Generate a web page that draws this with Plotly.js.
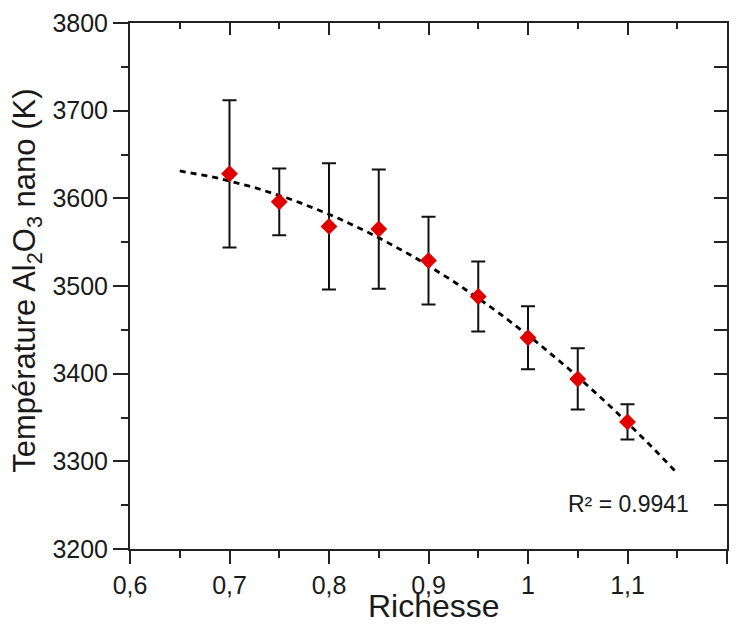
<!DOCTYPE html>
<html>
<head>
<meta charset="utf-8">
<script src="https://cdn.plot.ly/plotly-3.0.1.min.js"></script>
<style>html,body{margin:0;padding:0;background:#fff;}#chart{width:741px;height:626px;}</style>
</head>
<body>
<div id="chart"></div>
<script>
// Data
var richesse = [0.70, 0.75, 0.80, 0.85, 0.90, 0.95, 1.00, 1.05, 1.10];
var temperature = [3628, 3596, 3568, 3565, 3529, 3488, 3441, 3394, 3345];
var errorBar = [84, 38, 72, 68, 50, 40, 36, 35, 20];
var trendRange = [0.65, 1.15];
var xTickVals = [0.6, 0.7, 0.8, 0.9, 1.0, 1.1, 1.2];
var xTickText = ['0,6', '0,7', '0,8', '0,9', '1', '1,1', '1,2'];
var yTickVals = [3200, 3300, 3400, 3500, 3600, 3700, 3800];
var yTickText = ['3200', '3300', '3400', '3500', '3600', '3700', '3800'];
var xTitle = 'Richesse';
var yTitle = 'Température Al<sub>2</sub>O<sub>3</sub> nano (K)';
var r2Label = 'R² = 0.9941';

// quadratic least-squares trendline from the data (as in the original spreadsheet)
function polyfit2(xs, ys) {
  var n = xs.length, S = [0,0,0,0,0], T = [0,0,0];
  for (var i = 0; i < n; i++) {
    var p = 1;
    for (var k = 0; k < 5; k++) { S[k] += p; if (k < 3) T[k] += p * ys[i]; p *= xs[i]; }
  }
  var A = [[S[0],S[1],S[2],T[0]],[S[1],S[2],S[3],T[1]],[S[2],S[3],S[4],T[2]]];
  for (var c = 0; c < 3; c++) {
    for (var r = c + 1; r < 3; r++) {
      var f = A[r][c] / A[c][c];
      for (var j = c; j < 4; j++) A[r][j] -= f * A[c][j];
    }
  }
  var b = [0,0,0];
  for (var r2 = 2; r2 >= 0; r2--) {
    var s = A[r2][3];
    for (var j2 = r2 + 1; j2 < 3; j2++) s -= A[r2][j2] * b[j2];
    b[r2] = s / A[r2][r2];
  }
  return b;
}
var coef = polyfit2(richesse, temperature);
var trendX = [], trendY = [];
for (var i = 0; i <= 50; i++) {
  var xv = trendRange[0] + (trendRange[1] - trendRange[0]) * i / 50;
  trendX.push(xv);
  trendY.push(coef[0] + coef[1] * xv + coef[2] * xv * xv);
}

var FONT = 'Liberation Sans, Arial, sans-serif';
var axisColor = '#222';
var textColor = '#1a1a1a';
var TICKSIZE = 25;

var traces = [
  {
    x: trendX, y: trendY, mode: 'lines', type: 'scatter',
    line: {color: '#000', width: 2.8, dash: '6px,5px'},
    hoverinfo: 'skip', showlegend: false
  },
  {
    x: richesse, y: temperature, mode: 'markers', type: 'scatter',
    marker: {symbol: 'diamond', size: 13, color: '#e00000'},
    error_y: {type: 'data', array: errorBar, visible: true, color: '#111', thickness: 2, width: 7},
    showlegend: false
  },
  {
    x: richesse, y: temperature, mode: 'markers', type: 'scatter',
    xaxis: 'x2', yaxis: 'y2', marker: {opacity: 0}, hoverinfo: 'skip', showlegend: false
  }
];

var layout = {
  width: 741, height: 626,
  margin: {l: 130, r: 14, t: 23, b: 77},
  paper_bgcolor: '#fff', plot_bgcolor: '#fff',
  font: {family: FONT, color: textColor, size: TICKSIZE},
  xaxis: {
    range: [0.6, 1.2], tickmode: 'array', tickvals: xTickVals, ticktext: xTickText,
    showgrid: false, zeroline: false,
    showline: true, linecolor: axisColor, linewidth: 2,
    ticks: 'outside', ticklen: 13, tickwidth: 2, tickcolor: axisColor,
    minor: {dtick: 0.05, tick0: 0.6, ticks: 'outside', ticklen: 7, tickwidth: 2, tickcolor: axisColor, showgrid: false},
    tickfont: {size: TICKSIZE, family: FONT, color: textColor}
  },
  yaxis: {
    range: [3200, 3800], tickmode: 'array', tickvals: yTickVals, ticktext: yTickText,
    showgrid: false, zeroline: false,
    showline: true, linecolor: axisColor, linewidth: 2,
    ticks: 'outside', ticklen: 15, tickwidth: 2, tickcolor: axisColor,
    minor: {dtick: 50, tick0: 3200, ticks: 'outside', ticklen: 7, tickwidth: 2, tickcolor: axisColor, showgrid: false},
    tickfont: {size: TICKSIZE, family: FONT, color: textColor}
  },
  xaxis2: {
    overlaying: 'x', side: 'top', anchor: 'y2',
    range: [0.6, 1.2], dtick: 0.1, tick0: 0.6,
    showgrid: false, zeroline: false, showticklabels: false,
    showline: true, linecolor: axisColor, linewidth: 2,
    ticks: 'inside', ticklen: 12, tickwidth: 2, tickcolor: axisColor,
    minor: {dtick: 0.05, ticks: 'inside', ticklen: 6, tickwidth: 2, tickcolor: axisColor, showgrid: false}
  },
  yaxis2: {
    overlaying: 'y', side: 'right', anchor: 'x2',
    range: [3200, 3800], dtick: 50,
    showgrid: false, zeroline: false, showticklabels: false,
    showline: true, linecolor: axisColor, linewidth: 2,
    ticks: 'inside', ticklen: 13, tickwidth: 2, tickcolor: axisColor
  },
  annotations: [
    {
      text: xTitle, xref: 'paper', yref: 'paper', x: 0.51, y: -0.108,
      xanchor: 'center', yanchor: 'middle', showarrow: false,
      font: {size: 32, family: FONT, color: textColor}
    },
    {
      text: yTitle, xref: 'paper', yref: 'paper',
      x: -0.1725, y: 0.51, xanchor: 'center', yanchor: 'middle', textangle: -90, showarrow: false,
      font: {size: 31, family: FONT, color: textColor}
    },
    {
      text: r2Label, xref: 'paper', yref: 'paper', x: 0.94, y: 0.085,
      xanchor: 'right', yanchor: 'middle', showarrow: false,
      font: {size: 23, family: FONT, color: textColor}
    }
  ]
};

Plotly.newPlot('chart', traces, layout, {displayModeBar: false, staticPlot: true});
</script>
</body>
</html>
